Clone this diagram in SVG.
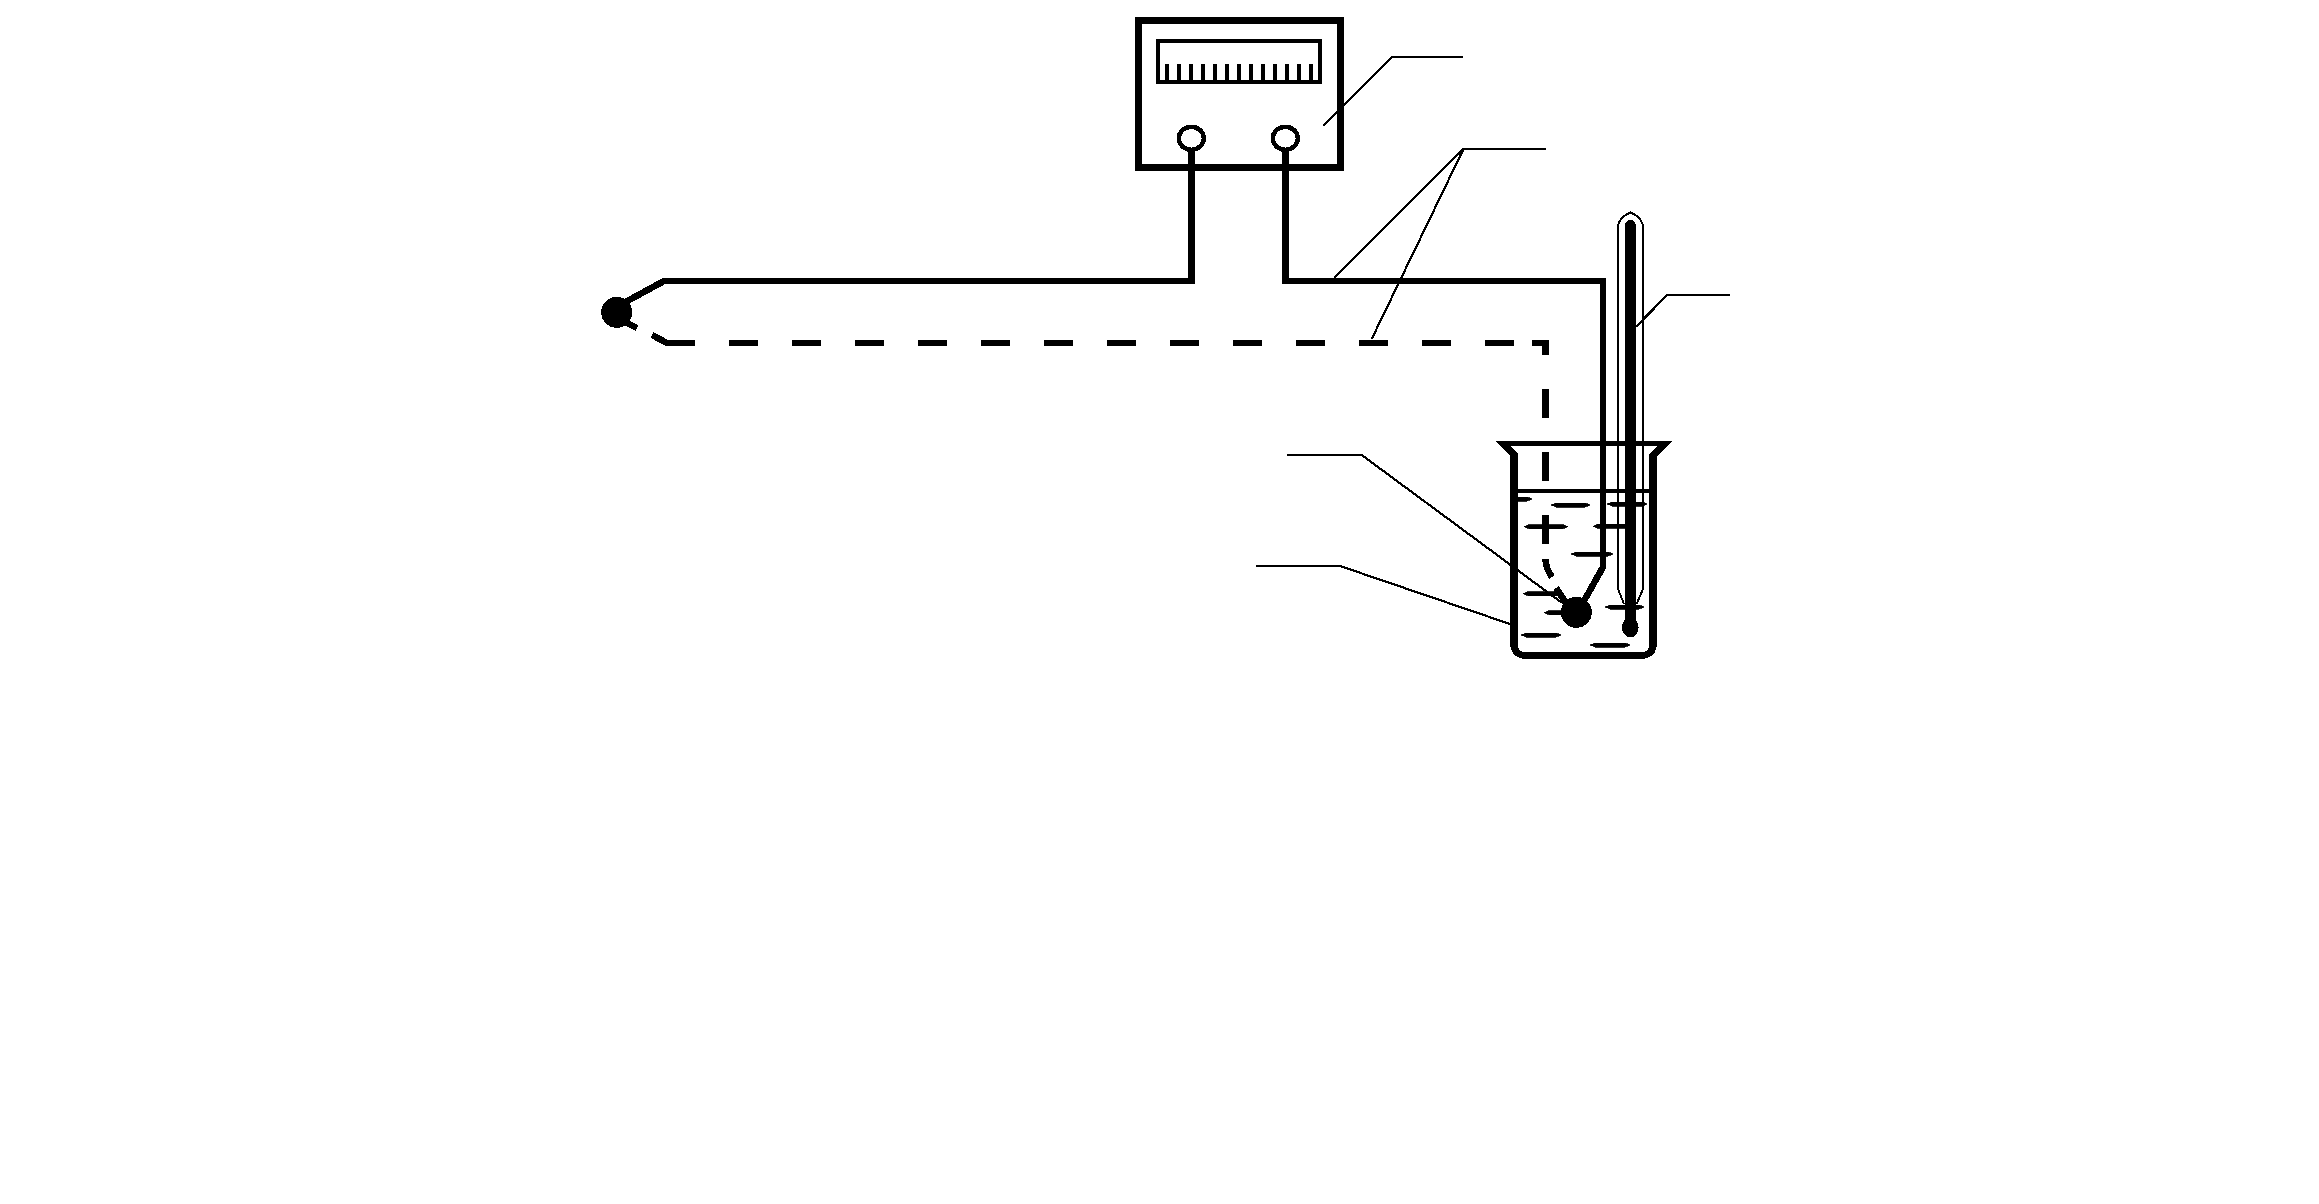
<svg xmlns="http://www.w3.org/2000/svg" width="2319" height="1204" viewBox="0 0 2319 1204" shape-rendering="crispEdges">
<style>
.k{fill:none;stroke:#000;stroke-miterlimit:10}
.wire{stroke-width:6.5}
.lead{stroke-width:2.2}
.f{fill:#000;stroke:none}
.liq{fill:#000;stroke:#000;stroke-width:0.8}
</style>
<rect width="2319" height="1204" fill="#fff"/>
<g id="meter">
<rect class="k" x="1138.5" y="20.5" width="202" height="147" stroke-width="7"/>
<rect class="k" x="1158" y="41" width="162" height="41" stroke-width="4"/>
<path class="k" stroke-width="4" d="M1167 64V82M1179 64V82M1191 64V82M1203 64V82M1215 64V82M1227 64V82M1239 64V82M1251 64V82M1263 64V82M1275 64V82M1287 64V82M1299 64V82M1311 64V82"/>
<ellipse class="k" cx="1191.3" cy="138.3" rx="12.5" ry="11.5" stroke-width="4.500"/>
<ellipse class="k" cx="1285.3" cy="138.3" rx="12.5" ry="11.5" stroke-width="4.500"/>
</g>
<g id="connectors">
<path class="k wire" d="M1191.5 150V281H664L620 305"/>
<path class="k wire" d="M1285.5 150V281H1603V567L1580 608"/>
<path class="k wire" d="M625 322L637 328M652 335L667 343H695M729 343H758M792 343H821M855 343H884M918 343H947M981 343H1010M1044 343H1073M1107 343H1136M1170 343H1199M1233 343H1262M1296 343H1325M1359 343H1388M1422 343H1451M1485 343H1514M1532 343H1545.5V355M1545.5 389V418M1545.5 452V481M1545.5 515V544M1545.5 559Q1545.5 568 1552 577M1556 588L1566 603"/>
</g>
<g id="beaker">
<path class="f" fill-rule="evenodd" d="M1495 441H1672L1657 456V642Q1657 659 1640 659H1527Q1510 659 1510 642V456ZM1510 446L1518 454V645Q1518 652 1525 652H1642Q1649 652 1649 645V454L1657 446Z"/>
<path class="k" stroke-width="3.600" d="M1518 491H1650"/>
<path class="liq" d="M1518 497H1527L1532 499L1527 501H1518ZM1551 505L1556 503H1585L1590 505L1585 507H1556ZM1607 504L1612 502H1642L1647 504L1642 506H1612ZM1524 526.700L1529 524.700H1563L1568 526.700L1563 528.700H1529ZM1593 526.300L1598 524.300H1627V528.300H1598ZM1571 554L1576 552H1608L1613 554L1608 556H1576ZM1523 593.700L1528 591.700H1560V595.700H1528ZM1544 612.700L1549 610.700H1565V614.700H1549ZM1605 607L1610 605H1639L1644 607L1639 609H1610ZM1521 635L1526 633H1556L1561 635L1556 637H1526ZM1590 645L1595 643H1625L1630 645L1625 647H1595Z"/>
</g>
<g id="thermometer">
<path class="k" stroke-width="2" d="M1618 589V225Q1621 216 1630.500 212.500Q1640 216 1643 225V589L1636.700 604M1618 589L1624 604"/>
<path class="f" d="M1625 622V226A5.500 6 0 0 1 1636 226V622Z"/>
<ellipse class="f" cx="1630.300" cy="627.300" rx="8.300" ry="10"/>
</g>
<g id="junctions">
<circle class="f" cx="616.700" cy="312.300" r="15.500"/>
<circle class="f" cx="1576.300" cy="612.300" r="15.500"/>
</g>
<g id="leaders">
<path class="k lead" d="M1323.300 125.300L1392.300 57H1462.700"/>
<path class="k lead" d="M1546 149H1463.500L1334 278M1463.500 149L1371.700 339"/>
<path class="k lead" d="M1636 326.700L1667.300 295H1730"/>
<path class="k lead" d="M1286.700 455H1361.700L1561.700 602.700"/>
<path class="k lead" d="M1256 566H1340L1510 624"/>
</g>
</svg>
